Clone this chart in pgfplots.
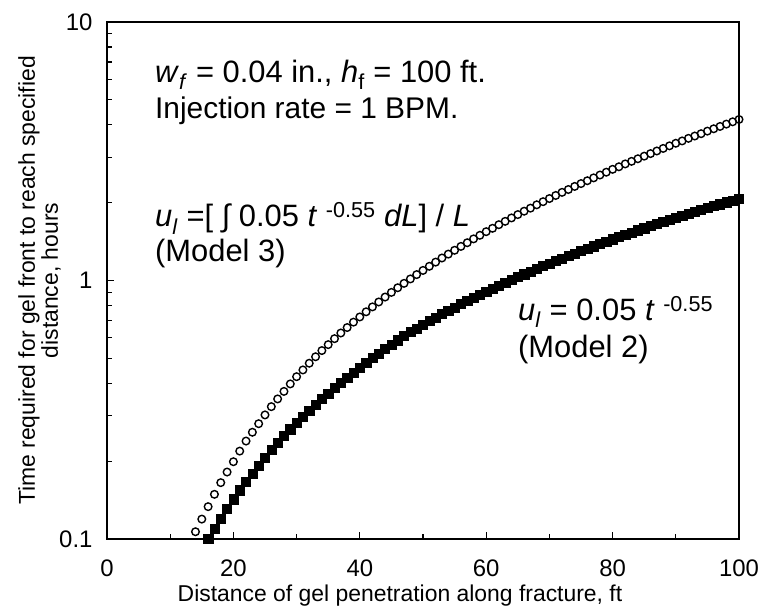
\documentclass[border=0pt]{standalone}
\usepackage{fontspec}
\setmainfont{Liberation Sans}
\usepackage{pgfplots}
\pgfplotsset{compat=1.18}
\usepackage{pgfplotstable}

% Model 2: u_l = 0.05 t^-0.55  (distance in ft, time in hours)
\pgfplotstableread{
L t
16 0.1000
17 0.1099
18 0.1202
19 0.1312
20 0.1426
21 0.1545
22 0.1667
23 0.1795
24 0.1928
25 0.2065
26 0.2208
27 0.2355
28 0.2506
29 0.2661
30 0.2818
31 0.2979
32 0.3141
33 0.3311
34 0.3483
35 0.3656
36 0.3837
37 0.4027
38 0.4217
39 0.4406
40 0.4603
41 0.4808
42 0.5012
43 0.5224
44 0.5433
45 0.5649
46 0.5875
47 0.6095
48 0.6324
49 0.6531
50 0.6748
51 0.6967
52 0.7190
53 0.7416
54 0.7645
55 0.7876
56 0.8108
57 0.8344
58 0.8582
59 0.8825
60 0.9067
61 0.9315
62 0.9563
63 0.9813
64 1.0067
65 1.0323
66 1.0580
67 1.0844
68 1.1106
69 1.1370
70 1.1641
71 1.1909
72 1.2181
73 1.2459
74 1.2735
75 1.3016
76 1.3298
77 1.3583
78 1.3870
79 1.4158
80 1.4454
81 1.4746
82 1.5045
83 1.5342
84 1.5642
85 1.5944
86 1.6251
87 1.6557
88 1.6866
89 1.7182
90 1.7498
91 1.7811
92 1.8130
93 1.8450
94 1.8771
95 1.9098
96 1.9427
97 1.9751
98 2.0086
99 2.0417
100 2.0754
}\modeltwo

% Model 3: u_l = [int 0.05 t^-0.55 dL] / L
\pgfplotstableread{
L t
14 0.1067
15 0.1194
16 0.1334
17 0.1489
18 0.1652
19 0.1816
20 0.1991
21 0.2188
22 0.2393
23 0.2588
24 0.2793
25 0.3020
26 0.3251
27 0.3483
28 0.3724
29 0.3981
30 0.4246
31 0.4508
32 0.4786
33 0.5070
34 0.5358
35 0.5649
36 0.5957
37 0.6266
38 0.6577
39 0.6902
40 0.7228
41 0.7568
42 0.7907
43 0.8260
44 0.8630
45 0.8995
46 0.9376
47 0.9750
48 1.014
49 1.054
50 1.094
51 1.135
52 1.178
53 1.222
54 1.265
55 1.309
56 1.355
57 1.400
58 1.449
59 1.496
60 1.545
61 1.592
62 1.644
63 1.694
64 1.746
65 1.799
66 1.854
67 1.905
68 1.963
69 2.018
70 2.075
71 2.133
72 2.193
73 2.249
74 2.312
75 2.371
76 2.432
77 2.495
78 2.559
79 2.624
80 2.692
81 2.754
82 2.825
83 2.891
84 2.958
85 3.027
86 3.097
87 3.170
88 3.243
89 3.319
90 3.396
91 3.467
92 3.548
93 3.622
94 3.698
95 3.784
96 3.864
97 3.945
98 4.027
99 4.111
100 4.198
}\modelthree

\begin{document}
\begin{tikzpicture}
\begin{axis}[
  name=ax,
  scale only axis,
  width=632bp, height=517bp,
  xmin=0, xmax=100,
  ymode=log, ymin=0.1, ymax=10,
  xtick={0,20,...,100},
  minor xtick={10,30,50,70,90},
  ytick={0.1,1,10},
  yticklabels={0.1,1,10},
  tick align=inside,
  xtick pos=bottom, ytick pos=left,
  major tick length=7bp, minor tick length=5bp,
  every tick/.style={black, line width=1.2bp},
  axis line style={line width=1.6bp},
  tick label style={font=\fontsize{24}{24}\selectfont},
  /pgf/number format/assume math mode=true,
  xticklabel style={yshift=-17bp},
  yticklabel style={xshift=-11bp},
  xlabel={Distance of gel penetration along fracture, ft},
  every axis x label/.style={at={(rel axis cs:0.4636,0)}, anchor=north,
    yshift=-42bp, font=\fontsize{23}{23}\selectfont},
  ylabel={Time required for gel front to reach specified\\distance, hours},
  every axis y label/.style={at={(rel axis cs:0,0.5)}, xshift=-46bp,
    rotate=90, anchor=south, inner sep=0pt, align=center,
    font=\fontsize{23}{23}\selectfont},
  clip=false,
]
\addplot[only marks, mark=square*, mark size=4.6bp, black] table[x=L, y=t] {\modeltwo};
\addplot[only marks, mark=o, mark size=3.8bp, mark options={line width=1.4bp, fill=white}, black] table[x=L, y=t] {\modelthree};

\begin{scope}[every node/.style={anchor=base west, inner sep=0pt, font=\fontsize{31}{31}\selectfont}]
\node at (rel axis cs:0.0759,0.8839) {\textit{w}\textsubscript{\textit{f}} = 0.04 in., \textit{h}\textsubscript{f} = 100 ft.};
\node[font=\fontsize{30}{30}\selectfont] at (rel axis cs:0.0759,0.8143) {Injection rate = 1 BPM.};
\node at (rel axis cs:0.0759,0.6035) {\textit{u}\textsubscript{\textit{l}} =[ ∫ 0.05 \textit{t} \textsuperscript{-0.55} \textit{dL}] / \textit{L}};
\node at (rel axis cs:0.0759,0.5358) {(Model 3)};
\node at (rel axis cs:0.6503,0.4236) {\textit{u}\textsubscript{\textit{l}} = 0.05 \textit{t} \textsuperscript{-0.55}};
\node at (rel axis cs:0.6503,0.3520) {(Model 2)};
\end{scope}
\end{axis}
\pgfresetboundingbox
\path (ax.south west) ++(-107bp,-72bp) coordinate (bl);
\path (ax.north east) ++(23bp,22bp) coordinate (tr);
\useasboundingbox (bl) rectangle (tr);
\end{tikzpicture}
\end{document}
